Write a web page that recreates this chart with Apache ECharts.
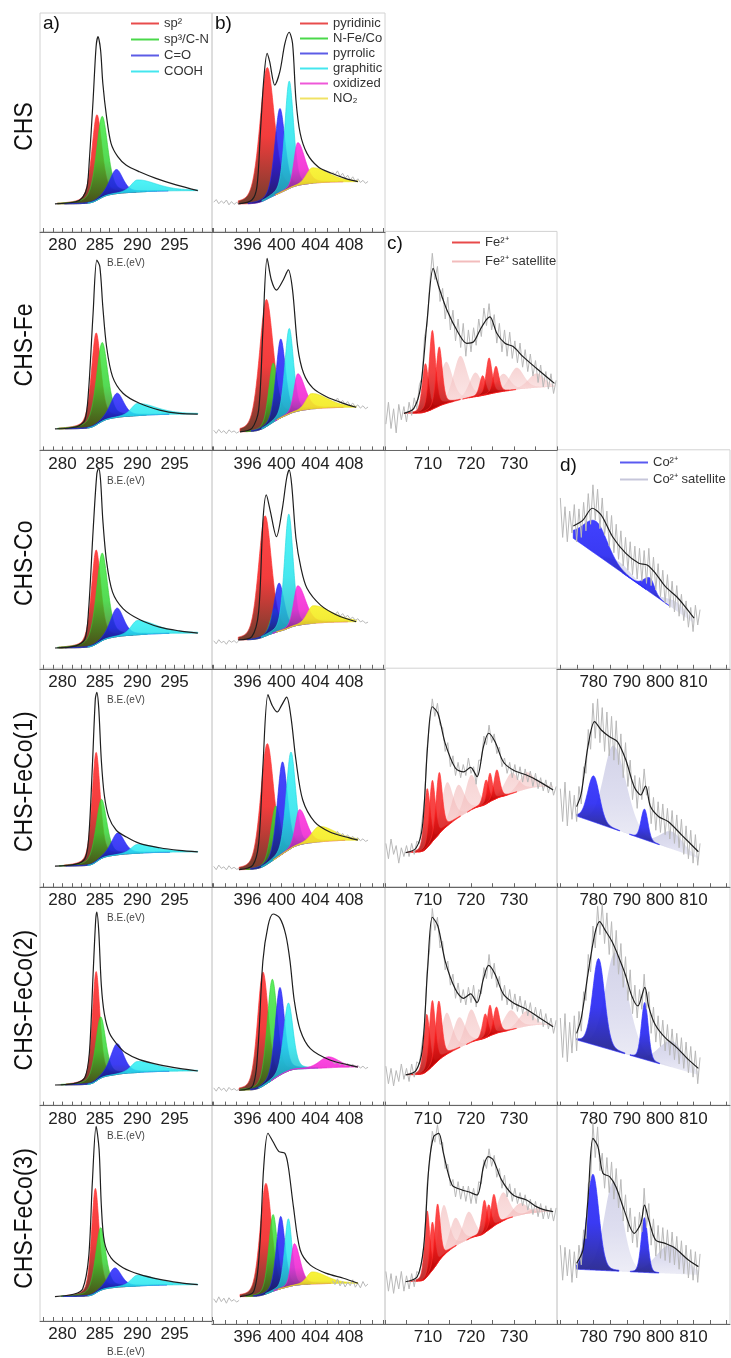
<!DOCTYPE html>
<html>
<head>
<meta charset="utf-8">
<script src="https://cdn.jsdelivr.net/npm/echarts@6/dist/echarts.min.js"></script>
<style>
  html, body { margin: 0; padding: 0; background: #ffffff; }
  #chart { width: 731px; height: 1358px; }
</style>
</head>
<body>
<div id="chart"></div>
<script>
// XPS high-resolution spectra (C 1s, N 1s, Fe 2p, Co 2p) for six samples.
// Intensities are in arbitrary units (0-100 per panel); energies in eV.

const ROW_NAMES = ['CHS', 'CHS-Fe', 'CHS-Co', 'CHS-FeCo(1)', 'CHS-FeCo(2)', 'CHS-FeCo(3)'];

// axis tick labels
const C1S_LABELS = [280, 285, 290, 295];
const N1S_LABELS = [396, 400, 404, 408];
const FE_LABELS = [710, 720, 730];
const CO_LABELS = [780, 790, 800, 810];

// ---------- C 1s ----------
// fitted envelopes [eV, intensity]
const C1S_ENV = [
  [[279.0,12.8],[281.8,13.8],[282.7,15.8],[283.3,20.7],[283.6,32.9],[284.1,60.3],[284.5,84.6],[284.75,89.2],[285.1,83.1],[285.4,67.9],[285.9,52.6],[286.5,40.5],[287.4,34.4],[288.5,30.6],[290.3,27.5],[292.5,24.5],[295.2,21.5],[298.1,18.9]],
  [[279.0,9.8],[281.9,10.8],[283.0,13.9],[283.5,27.6],[284.1,62.6],[284.6,86.9],[285.0,83.9],[285.4,65.6],[285.9,47.4],[286.7,33.7],[288.1,26.1],[290.3,21.5],[293.0,18.4],[295.6,16.9],[298.1,16.6]],
  [[279.0,9.5],[281.8,10.5],[283.0,13.5],[283.5,27],[284.1,63],[284.6,89],[284.85,91.7],[285.1,86],[285.4,68],[285.9,49],[286.7,35],[288.1,27.5],[290.3,22.5],[293.0,19],[295.6,17.3],[298.1,16.3]],
  [[279.0,9.6],[281.8,10.5],[283.0,13],[283.5,22],[284.0,55],[284.4,86],[284.6,89],[284.85,82],[285.2,58],[285.6,42],[286.2,32],[287.2,26],[288.5,23],[290.3,20],[293.0,18],[295.6,16.8],[298.1,16.1]],
  [[279.0,9.4],[281.8,10.3],[283.0,12.8],[283.6,24],[284.1,60],[284.45,85],[284.6,88.4],[284.85,80],[285.2,55],[285.6,42],[286.3,33],[287.3,28],[288.5,24],[290.3,21],[293.0,18.6],[295.6,17],[298.1,15.8]],
  [[279.0,11.3],[281.6,12.5],[282.7,14.8],[283.5,29.2],[284.0,64.2],[284.5,90.1],[284.9,79.5],[285.2,53.6],[285.6,36.8],[286.5,29.2],[288.1,24.7],[290.3,21.6],[293.0,19.3],[295.6,17.8],[298.1,16.8]]
];
// Shirley background end levels [low-BE side, high-BE side]
const C1S_BG = [[12.8,18.9],[9.8,16.6],[9.5,16.3],[9.6,16.1],[9.4,15.8],[11.3,16.8]];
// components [centre eV, height, FWHM (low side), FWHM (high side, optional)]
const C1S_SP2  = [[284.6,39,1.6],[284.5,42,1.5],[284.5,43,1.5],[284.5,50,1.3],[284.5,50,1.2],[284.4,48.5,1.2]];
const C1S_SP3  = [[285.3,37,1.8],[285.3,36,1.8],[285.3,40,1.8],[285.2,27,1.7],[285.1,28,1.6],[285.1,29,1.6]];
const C1S_CO   = [[287.2,11,2.1],[287.3,11,2.1],[287.3,13,2.1],[287.4,10,2.1],[287.3,14,2.1],[287.0,9,2.1]];
const C1S_COOH = [[290,5.5,2,6],[290,5.5,2,6],[290,6.5,2,6],[290,4,2,6],[290,5,2,6],[290,5,2,6]];

// ---------- N 1s ----------
const N1S_ENV = [
  [[394.9,12.8],[396.5,14.6],[397.1,20.7],[397.5,45],[397.9,69.4],[398.3,81.6],[398.6,77.8],[399.2,67.1],[399.8,73.2],[400.4,86.1],[400.9,91.2],[401.3,86.1],[401.7,60.3],[402.2,45],[403.0,35.9],[404.3,29.8],[405.9,26.8],[407.5,24.5],[409.0,23.0]],
  [[395.1,8.5],[396.5,10.1],[397.3,18.4],[397.8,55],[398.3,87.7],[398.8,77.8],[399.4,73.2],[400.2,77.8],[400.8,82.4],[401.3,73.2],[401.9,47.4],[402.6,35.2],[403.7,28.4],[405.3,24.5],[407.3,21.5],[408.8,19.7]],
  [[394.9,13.2],[396.5,14.7],[397.3,26.1],[397.8,67.2],[398.2,79.4],[398.65,72.5],[399.4,60.3],[400.1,73.3],[400.6,87],[400.9,90.8],[401.2,83.9],[401.7,59.6],[402.3,45.9],[403.0,36.8],[404.6,29.1],[406.5,24.6],[408.8,21.5]],
  [[395.0,8],[396.6,10],[397.3,20],[397.8,55],[398.4,87.9],[398.9,83],[399.5,80],[400.0,83],[400.6,86.8],[401.1,78],[401.7,58],[402.5,39.8],[403.9,29.8],[405.7,25.2],[408.0,22.5],[409.0,21.5]],
  [[395.0,7],[396.6,9],[397.2,25],[397.8,66],[398.4,82],[399.0,87.5],[399.8,85.6],[400.5,78],[401.0,66],[401.5,48],[402.2,34.5],[403.4,26],[405.7,20.8],[408.0,18.5],[409.0,17.6]],
  [[395.1,12.5],[396.7,14.7],[397.4,33.8],[397.9,71.8],[398.4,87.1],[399.0,83.2],[399.7,78.7],[400.4,77.9],[400.8,71.8],[401.4,53.6],[402.2,33.8],[403.4,26.9],[405.3,23.1],[407.3,20.9],[409.0,18.6]]
];
const N1S_BG = [[12.8,23.0],[8.5,19.7],[13.2,21.5],[8,21.5],[7,17.6],[12.5,18.6]];
const N1S_PYRIDINIC = [[398.3,60,2.0],[398.2,58,1.9],[398.05,55,1.8],[398.3,55,1.8],[397.8,52,1.5],[398.15,50.5,1.6]];
const N1S_NFECO     = [[399.2,0,1.2],[399.0,27,1.2],[399.2,11,1.2],[399.3,24,1.3],[398.9,46,1.4],[399.0,35,1.2]];
const N1S_PYRROLIC  = [[399.8,38.5,1.4],[399.9,36,1.3],[399.7,22,1.4],[400.1,42,1.4],[399.8,40,1.3],[399.9,33,1.2]];
const N1S_GRAPHITIC = [[400.9,49,1.2],[400.9,39,1.2],[400.85,52,1.2],[401.1,44,1.3],[400.8,31,1.3],[400.8,31,1.0]];
const N1S_OXIDIZED  = [[401.9,19.5,1.0,2.0],[401.9,17,1.0,2.0],[401.9,18,1.1,2.2],[402.1,16,1.1,2.0],[405.5,5,2.5,3.0],[401.5,19,0.9,1.6]];
const N1S_NO2       = [[403.6,7,1.6,4.5],[403.5,7,1.5,4.5],[403.7,8,1.6,5],[404.4,7,2,4.5],[404,0,2,4],[403.6,5.5,1.5,4]];
// raw counts outside the envelope: 392.0 eV upward and 406.0 eV upward, 0.3 eV steps
const N1S_RAW_LEFT_X0 = 392.0, N1S_RAW_RIGHT_X0 = 406.0, N1S_RAW_STEP = 0.3;
const N1S_RAW_LEFT = [
  [13.6,14.8,12.9,14.2,13.1,14.6,12.4,13.9,12.6,13.5,12.9],
  [9.2,7.8,9.6,8.1,9.0,7.6,9.4,8.3,8.9,7.9,8.6],
  [12.8,11.4,13.3,11.9,12.6,11.2,13.0,12.1,12.9,11.8,13.1],
  [9.5,8.0,10.1,8.6,9.3,7.9,9.8,8.4,9.1,8.2,8.5],
  [8.1,6.6,8.5,7.0,8.0,6.4,8.3,7.1,7.8,6.9,7.4],
  [11.5,9.8,12.4,10.2,11.8,9.5,12.0,10.4,11.2,10.0,10.8]
];
const N1S_RAW_RIGHT = [
  [27.5,26.1,27.9,25.4,26.8,24.6,25.9,23.8,25.2,23.1,24.3,22.6,23.6,22.2,23.1],
  [23.6,22.4,23.9,21.7,22.8,21.1,22.3,20.5,21.6,19.9,20.8,19.3,20.4,19.0,19.8],
  [25.8,24.6,26.1,24.0,25.2,23.5,24.4,22.8,23.6,22.1,22.9,21.4,22.0,20.8,21.3],
  [25.2,24.0,25.5,23.4,24.6,22.8,23.9,22.3,23.2,21.8,22.6,21.2,22.1,20.9,21.5],
  [20.2,19.1,20.5,18.6,19.6,18.2,19.2,17.9,18.9,17.4,18.4,17.1,18.0,16.9,17.5],
  [19.8,18.0,20.6,17.4,19.5,16.9,19.0,17.5,20.2,16.8,18.6,16.5,19.4,17.2,18.3]
];

// ---------- Fe 2p (samples with Fe) ----------
const FE_ENV = [
  null,
  [[704.4,16.9],[706.7,19.2],[708.3,29.1],[709.8,59.5],[711.2,83.1],[712.5,74.7],[714.4,64.1],[717.1,53.5],[719.0,48.9],[720.6,49.6],[722.1,55],[723.5,59.5],[724.4,61],[726.0,53.5],[727.9,48.9],[729.8,47.4],[732.1,42.8],[735.2,37.5],[739.4,30.6]],
  null,
  [[704.8,15.8],[707.2,17.8],[708.7,27.6],[709.9,64.2],[711.0,82.4],[712.3,79.4],[714.0,65.7],[716.4,54.3],[718.3,52.7],[719.9,54.7],[721.4,50.5],[722.9,64.2],[724.1,70.3],[725.6,66.4],[727.5,57.3],[729.8,53.5],[732.9,51.2],[735.2,49],[739.1,44.4]],
  [[704.8,14],[707.2,16],[708.7,26],[709.9,62],[711.0,86],[712.3,82],[714.0,66],[716.4,53],[718.3,49],[719.9,51],[721.4,47],[722.9,58],[724.1,64],[725.6,60],[727.5,51],[729.8,47],[732.9,44],[735.2,41],[739.1,36]],
  [[704.8,19.3],[707.5,21.6],[709.0,35.3],[710.2,71.8],[711.3,85.5],[712.5,87],[713.6,77.9],[715.6,63.5],[717.9,61.2],[719.4,60.4],[721.4,58.9],[722.9,71.8],[724.0,76.4],[725.2,74.9],[727.1,65.8],[729.8,58.9],[732.9,56.6],[735.2,53.6],[737.1,52.1],[739.1,51.3]]
];
const FE_BG = [null,[16.9,29],null,[15.8,46],[14,37],[19.3,51.3]];
const FE2_PEAKS = [
  null,
  [[709.4,22,1.7],[711.0,36,1.7],[712.6,27,1.7],[722.7,9,1.6],[724.2,16.5,1.6],[725.8,12,1.6]],
  null,
  [[709.8,27,1.6],[711.0,28,1.6],[712.6,28,1.7],[723.5,11,1.5],[724.4,13,1.4],[726.0,13,1.6]],
  [[709.7,26,1.6],[711.0,30,1.6],[712.5,27,1.7],[723.3,11,1.5],[724.4,14,1.4],[725.9,12,1.6]],
  [[709.8,30,1.4],[711.0,22,1.4],[712.2,27,1.5],[723.1,15,1.4],[724.1,11.5,1.4],[725.3,14.5,1.5]]
];
const FE_SAT_PEAKS = [
  null,
  [[714.2,19,3.6],[717.5,20,3.8],[721.0,11,3.4],[727.5,8,3.6],[730.6,10,4],[735.2,6.5,4.5]],
  null,
  [[714.4,20,3.3],[717.0,15,3.5],[720.0,16,3.3],[729.4,9.5,3.8],[732.9,7.7,4]],
  [[714.3,19,3.3],[717.2,14,3.5],[720.0,15,3.3],[729.2,9,3.8],[732.8,7,4]],
  [[713.6,23,3.0],[716.3,13,3.2],[719.4,12.5,3.2],[727.4,13,3.5],[731.4,5.5,4],[735.2,2,4]]
];
// raw counts from 700.2 eV in 0.6 eV steps
const FE_RAW_X0 = 700.2, FE_RAW_STEP = 0.6;
const FE_RAW = [
  null,
  [12,22,10,19,8,21,14,20,13,22, 16,24,19,30,33,52,57,76,90,78, 84,68,74,60,70,55,64,50,60,47, 58,43,55,45,56,48,60,52,65,57, 67,55,62,49,58,45,55,43,54,42, 50,40,49,38,46,36,44,34,41,31, 39,29,36,28,35,26,32],
  null,
  [20,13,22,15,19,11,18,14,19,14, 20,15,21,20,30,40,64,75,86,78, 84,74,73,62,66,55,60,51,57,50, 56,51,59,52,55,47,58,58,69,65, 74,66,70,61,64,55,59,52,57,50, 56,49,55,48,54,48,53,46,52,45, 50,44,49,43,48,42,46],
  [18,10,17,9,16,11,19,12,17,11, 19,13,20,19,28,36,62,72,90,80, 86,72,75,62,66,55,60,49,56,47, 53,46,54,47,55,45,53,51,63,58, 69,58,65,54,59,48,55,46,53,44, 51,43,50,42,48,41,47,39,45,38, 44,36,42,35,40,33,39],
  [24,15,23,14,22,16,24,15,22,16, 23,17,24,23,29,38,64,74,88,83, 91,82,83,71,73,63,66,58,65,57, 63,56,63,55,62,55,65,64,75,71, 80,72,77,67,71,62,68,58,64,56, 62,55,60,54,59,52,57,50,56,49, 55,48,54,48,53,47,53]
];

// ---------- Co 2p (samples with Co) ----------
const CO_ENV = [
  null, null,
  [[773.9,65.2],[776.8,67.9],[779.6,73.3],[782.3,70.2],[785.7,60.3],[789.7,52.7],[793.6,48.2],[796.1,47.4],[798.6,43.6],[801.6,37.5],[805.0,32.9],[807.5,28.4],[810.2,23.1]],
  [[774.9,36.8],[776.3,42.9],[778.3,64.2],[780.3,75.6],[782.3,71.8],[784.8,68.7],[787.2,66.4],[789.7,58.1],[792.2,45.9],[794.2,42.1],[795.6,46.2],[797.1,36.8],[799.6,32.2],[802.5,29.9],[806.5,23.8],[811.5,16.2]],
  [[774.9,33],[776.3,40],[778.3,60],[780.3,78],[781.8,84],[783.5,80],[785.5,75],[787.5,68],[789.5,60],[791.5,50],[793.3,45.5],[795.4,54],[796.6,45],[798.5,37],[801.5,31],[805.0,26.5],[808.5,21],[811.5,17]],
  [[774.9,27.7],[776.8,33.8],[778.3,56.6],[779.8,84.8],[781.3,81],[782.8,68.8],[784.8,67.3],[786.7,62.7],[789.2,52],[792.2,41.4],[794.2,46],[795.3,54.3],[796.6,47.5],[798.6,38.4],[801.5,36.8],[804.5,34.6],[808.5,29.2],[811.5,26.2]]
];
// linear background end levels
const CO_BG = [null,null,[59.6,20.8],[32.5,13.2],[30,14],[25,22.4]];
const CO2_PEAKS = [
  null, null,
  [[780.8,15,9.5,8],[797.0,6.5,4.5,3]],
  [[780.0,21,4.2],[795.3,13.9,2.4]],
  [[781.5,40,4.2],[795.4,26,2.4]],
  [[779.8,43.7,4.2],[795.3,25,2.3]]
];
const CO_SAT_PEAKS = [
  null, null,
  [[788,4,8],[805,4,8]],
  [[786,38,7,9],[803.5,8,8]],
  [[786.5,45,7,9],[803.5,12,9]],
  [[786,41,6.5],[803,13,10]]
];
// raw counts from 770.0 eV in 0.7 eV steps
const CO_RAW_X0 = 770.0, CO_RAW_STEP = 0.7;
const CO_RAW = [
  null, null,
  [78,60,74,58,72,62,75,58,73,60, 76,63,80,66,84,68,82,64,78,61, 72,56,70,53,66,50,63,47,60,45, 58,43,56,41,55,40,54,39,55,38, 51,36,48,33,45,30,43,28,40,26, 38,24,34,22,31,19,28,17,29,20, 27],
  [45,30,48,28,44,31,42,30,46,38, 55,52,72,63,84,68,86,66,82,62, 80,60,78,58,76,56,70,50,66,46, 58,40,51,36,50,40,54,42,46,29, 41,26,39,25,38,24,36,22,35,20, 33,18,31,15,28,13,26,11,24,10, 20],
  [40,22,42,20,38,24,41,25,43,34, 52,48,69,61,82,72,91,78,92,74, 88,69,84,64,80,60,74,54,68,48, 62,42,55,40,53,44,60,44,52,33, 45,29,41,27,39,25,37,23,35,21, 33,19,31,17,29,15,27,13,25,10, 22],
  [36,20,35,22,34,19,33,21,36,27, 43,39,64,66,92,76,90,70,78,62, 76,60,74,57,71,53,66,47,59,42, 53,37,49,35,51,42,62,44,55,36, 48,31,45,30,44,29,43,28,42,27, 40,25,38,23,36,21,34,20,33,19, 32]
];

// ---------- layout & styling ----------
const FONT = '"Liberation Sans", Arial, Helvetica, sans-serif';
const PANEL_TOP = 13, ROW_STEP = 218.4, PANEL_H = 219;
const COL_LEFT = [40, 212, 385, 557];
const COL_W = [172, 173, 172, 173];

function seq(a, b, s) {
  const out = [];
  for (let k = 0; a + k * s <= b + 1e-6; k++) out.push(Math.round((a + k * s) * 1000) / 1000);
  return out;
}
function sampled(x0, step, ys) {
  return ys.map((y, i) => [Math.round((x0 + i * step) * 1000) / 1000, y]);
}

// eta: Lorentzian fraction of the pseudo-Voigt line shape used by each fit
const AXES = {
  C:  { col: 0, min: 277,   max: 300,   labels: C1S_LABELS, ticks: seq(277.5, 300, 1.25), name: 'B.E.(eV)', eta: 0.45, step: 0.03 },
  N:  { col: 1, min: 391.8, max: 412.2, labels: N1S_LABELS, ticks: seq(392, 412, 4 / 3), eta: 0.3, step: 0.03 },
  Fe: { col: 2, min: 700,   max: 740,   labels: FE_LABELS,  ticks: seq(700, 740, 5), eta: 0.35, step: 0.08 },
  Co: { col: 3, min: 769,   max: 821,   labels: CO_LABELS,  ticks: seq(770, 820, 5), eta: 0.15, step: 0.08 }
};

const RED   = { top: '#ff2727', mid: '#f01a1a', bottom: '#5a1a08', stroke: '#ff3030', legend: '#e84c4c', opacity: 0.85 };
const GREEN = { top: '#36ea36', mid: '#2ad22a', bottom: '#3e5212', stroke: '#2fd02f', legend: '#4ad84a', opacity: 0.8 };
const BLUE  = { top: '#2626ff', mid: '#1a1af0', bottom: '#141468', stroke: '#2a2aee', legend: '#5c5ce6', opacity: 0.85 };
const CYAN  = { top: '#30f2f6', mid: '#26e4ec', bottom: '#20a8b8', stroke: '#25d8e0', legend: '#44e6ee', opacity: 0.85 };
const STYLE = {
  'sp²': RED, 'sp³/C-N': GREEN, 'C=O': BLUE, 'COOH': CYAN,
  'pyridinic': RED, 'N-Fe/Co': GREEN, 'pyrrolic': BLUE, 'graphitic': CYAN,
  'oxidized': { top: '#ff28de', mid: '#f01ed0', bottom: '#8a2080', stroke: '#f020d0', legend: '#ee58d8', opacity: 0.85 },
  'NO₂':      { top: '#f8f226', mid: '#f2ea20', bottom: '#c4b420', stroke: '#e8e020', legend: '#f0e264', opacity: 0.9 },
  'Fe²⁺':     { top: '#ff1c1c', mid: '#f01212', bottom: '#a40000', stroke: '#ff2a2a', legend: '#e84a4a', opacity: 0.8 },
  'Fe²⁺ satellite': { top: '#efa8a8', mid: '#f4c0c0', bottom: '#fadede', stroke: 'rgba(0,0,0,0)', legend: '#f2bcbc', opacity: 0.5 },
  'Co²⁺':     { top: '#2c2cff', mid: '#2424f2', bottom: '#1c1c88', stroke: '#3030ff', legend: '#5a5af0', opacity: 0.9 },
  'Co²⁺ satellite': { top: '#c4c4e0', mid: '#d2d2ea', bottom: '#e8e8f4', stroke: 'rgba(0,0,0,0)', legend: '#c6c6da', opacity: 0.75 }
};

// asymmetric pseudo-Voigt component
function peakAt(x, p, eta) {
  const w = x < p[0] ? p[2] : (p[3] || p[2]);
  const d = (x - p[0]) / w;
  return p[1] * ((1 - eta) * Math.exp(-2.7726 * d * d) + eta / (1 + 4 * d * d));
}

const option = {
  animation: false,
  backgroundColor: '#ffffff',
  grid: [], xAxis: [], yAxis: [], series: [],
  legend: [], graphic: { elements: [] }
};

function addPanel(row, key, env, bgEnds, bgKind, comps, raws) {
  const ax = AXES[key];
  const gi = option.grid.length;
  option.grid.push({
    left: COL_LEFT[ax.col], top: PANEL_TOP + ROW_STEP * row,
    width: COL_W[ax.col], height: PANEL_H,
    show: true, borderColor: '#d2d2d2', borderWidth: 1
  });
  option.xAxis.push({
    gridIndex: gi, type: 'value', min: ax.min, max: ax.max,
    splitLine: { show: false },
    axisLine: { show: true, onZero: false, lineStyle: { color: '#666', width: 1 } },
    axisTick: { show: true, inside: true, length: 4, customValues: ax.ticks, lineStyle: { color: '#666' } },
    axisLabel: { customValues: ax.labels, fontSize: 17, color: '#222', fontFamily: FONT, margin: 5 },
    name: ax.name || '', nameLocation: 'middle', nameGap: 26,
    nameTextStyle: { fontSize: 10, color: '#444', fontFamily: FONT }
  });
  option.yAxis.push({ gridIndex: gi, type: 'value', min: 0, max: 100, show: false });

  // evaluation grid spanning the envelope
  const xa = env[0][0], xb = env[env.length - 1][0];
  const n = Math.round((xb - xa) / ax.step);
  const xs = Array.from({ length: n + 1 }, (_, i) => xa + (xb - xa) * i / n);
  const allPeaks = comps.flatMap(c => c.peaks).filter(p => p[1] > 0);

  let bg;
  if (bgKind === 'shirley') {
    let acc = 0;
    const cum = xs.map(x => (acc += allPeaks.reduce((s, p) => s + peakAt(x, p, ax.eta), 0)));
    bg = cum.map(c => bgEnds[0] + (bgEnds[1] - bgEnds[0]) * c / acc);
  } else {
    bg = xs.map(x => bgEnds[0] + (bgEnds[1] - bgEnds[0]) * (x - xa) / (xb - xa));
  }

  comps.forEach(c => {
    const st = STYLE[c.name];
    const shapes = c.peaks.filter(p => p[1] > 0).map(p => {
      const top = [], bot = [];
      xs.forEach((x, i) => {
        const g = peakAt(x, p, ax.eta);
        if (g > p[1] * 0.01) { top.push([x, bg[i] + g]); bot.push([x, bg[i]]); }
      });
      return top.concat(bot.reverse());
    }).filter(s => s.length > 2);
    option.series.push({
      type: 'custom', name: c.name, xAxisIndex: gi, yAxisIndex: gi,
      silent: true, z: 1, clip: true,
      itemStyle: { color: st.legend },
      data: shapes.map(s => s[0]),
      renderItem: (params, api) => ({
        type: 'polygon',
        shape: { points: shapes[params.dataIndex].map(p => api.coord(p)) },
        style: {
          fill: new echarts.graphic.LinearGradient(0, 0, 0, 1, [
            { offset: 0, color: st.top }, { offset: 0.5, color: st.mid }, { offset: 1, color: st.bottom }
          ]),
          stroke: st.stroke, lineWidth: 0.8, opacity: st.opacity
        }
      })
    });
  });

  raws.forEach(r => option.series.push({
    type: 'line', xAxisIndex: gi, yAxisIndex: gi, data: r, symbol: 'none',
    silent: true, z: 2, lineStyle: { color: '#b9b9b9', width: 1 }
  }));

  option.series.push({
    type: 'line', xAxisIndex: gi, yAxisIndex: gi, data: env, symbol: 'none',
    smooth: 0.3, silent: true, z: 3, lineStyle: { color: '#1e1e1e', width: 1.2 }
  });
}

for (let r = 0; r < 6; r++) {
  addPanel(r, 'C', C1S_ENV[r], C1S_BG[r], 'shirley', [
    { name: 'sp²', peaks: [C1S_SP2[r]] },
    { name: 'sp³/C-N', peaks: [C1S_SP3[r]] },
    { name: 'C=O', peaks: [C1S_CO[r]] },
    { name: 'COOH', peaks: [C1S_COOH[r]] }
  ], []);
  addPanel(r, 'N', N1S_ENV[r], N1S_BG[r], 'shirley', [
    { name: 'pyridinic', peaks: [N1S_PYRIDINIC[r]] },
    { name: 'N-Fe/Co', peaks: [N1S_NFECO[r]] },
    { name: 'pyrrolic', peaks: [N1S_PYRROLIC[r]] },
    { name: 'graphitic', peaks: [N1S_GRAPHITIC[r]] },
    { name: 'oxidized', peaks: [N1S_OXIDIZED[r]] },
    { name: 'NO₂', peaks: [N1S_NO2[r]] }
  ], [
    sampled(N1S_RAW_LEFT_X0, N1S_RAW_STEP, N1S_RAW_LEFT[r]),
    sampled(N1S_RAW_RIGHT_X0, N1S_RAW_STEP, N1S_RAW_RIGHT[r])
  ]);
  if (FE_ENV[r]) {
    addPanel(r, 'Fe', FE_ENV[r], FE_BG[r], 'shirley', [
      { name: 'Fe²⁺ satellite', peaks: FE_SAT_PEAKS[r] },
      { name: 'Fe²⁺', peaks: FE2_PEAKS[r] }
    ], [sampled(FE_RAW_X0, FE_RAW_STEP, FE_RAW[r])]);
  }
  if (CO_ENV[r]) {
    addPanel(r, 'Co', CO_ENV[r], CO_BG[r], 'linear', [
      { name: 'Co²⁺ satellite', peaks: CO_SAT_PEAKS[r] },
      { name: 'Co²⁺', peaks: CO2_PEAKS[r] }
    ], [sampled(CO_RAW_X0, CO_RAW_STEP, CO_RAW[r])]);
  }
}

// legends
const legendBase = {
  orient: 'vertical', icon: 'rect', itemWidth: 28, itemHeight: 2, padding: 0,
  selectedMode: false,
  textStyle: { fontSize: 13, color: '#333', fontFamily: FONT, lineHeight: 15 }
};
const legendItems = names => names.map(nm => ({ name: nm, itemStyle: { color: STYLE[nm].legend } }));
option.legend = [
  Object.assign({}, legendBase, { left: 131, top: 16, itemGap: 1, data: legendItems(['sp²', 'sp³/C-N', 'C=O', 'COOH']) }),
  Object.assign({}, legendBase, { left: 300, top: 16, itemGap: 0, data: legendItems(['pyridinic', 'N-Fe/Co', 'pyrrolic', 'graphitic', 'oxidized', 'NO₂']) }),
  Object.assign({}, legendBase, { left: 452, top: 235, itemGap: 4, data: legendItems(['Fe²⁺', 'Fe²⁺ satellite']) }),
  Object.assign({}, legendBase, { left: 620, top: 455, itemGap: 2, data: legendItems(['Co²⁺', 'Co²⁺ satellite']) })
];

// sample names (vertical) and panel letters
ROW_NAMES.forEach((t, r) => {
  option.graphic.elements.push({
    type: 'text', x: 25, y: PANEL_TOP + ROW_STEP * r + PANEL_H / 2 + 4,
    rotation: Math.PI / 2, scaleY: 1.15, silent: true,
    style: { text: t, fontSize: 23, fontFamily: FONT, fill: '#111', align: 'center', verticalAlign: 'middle' }
  });
});
[['a)', 43, 14], ['b)', 215, 14], ['c)', 387, 234], ['d)', 560, 456]].forEach(([t, x, y]) => {
  option.graphic.elements.push({
    type: 'text', x, y, silent: true,
    style: { text: t, fontSize: 19, fontFamily: FONT, fill: '#111', align: 'left', verticalAlign: 'top' }
  });
});

const chart = echarts.init(document.getElementById('chart'), null, { renderer: 'canvas', width: 731, height: 1358 });
chart.setOption(option);
</script>
</body>
</html>
